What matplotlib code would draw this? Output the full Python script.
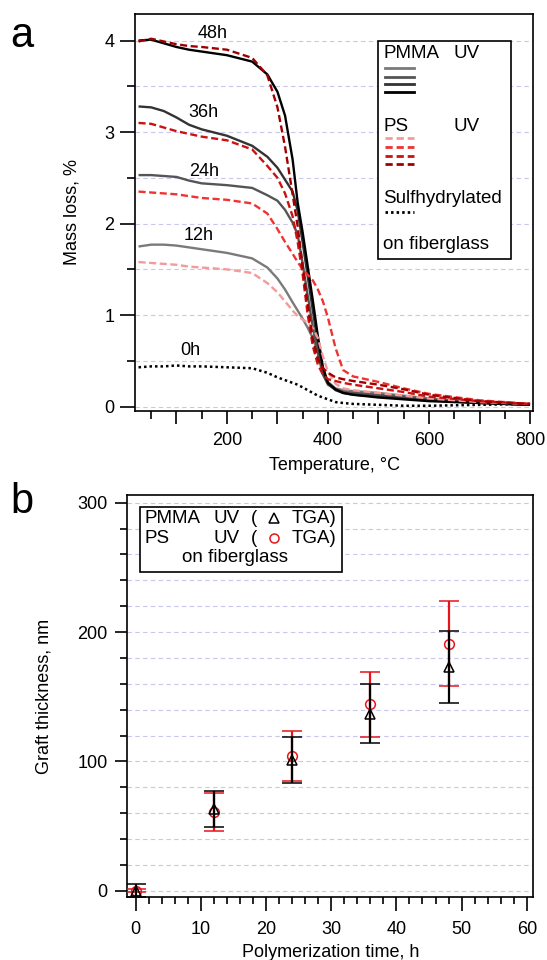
import matplotlib
matplotlib.use("Agg")
import matplotlib.pyplot as plt
from matplotlib.patches import Rectangle
from matplotlib.ticker import MultipleLocator, FuncFormatter

plt.rcParams['font.family'] = ['Liberation Sans', 'DejaVu Sans']

# ---- panel a: TGA curves (temperature in degC, mass loss in %) ----
temp = [25, 50, 75, 100, 125, 150, 200, 250, 280, 300, 315, 330, 340, 350,
        360, 370, 380, 390, 400, 415, 430, 450, 500, 550, 600, 700, 800]

pmma_12h = [1.75, 1.77, 1.77, 1.76, 1.74, 1.72, 1.68, 1.62, 1.52, 1.40, 1.28, 1.14, 1.05, 0.96,
            0.86, 0.75, 0.59, 0.40, 0.27, 0.20, 0.18, 0.17, 0.15, 0.12, 0.09, 0.05, 0.02]
pmma_24h = [2.53, 2.53, 2.52, 2.51, 2.47, 2.44, 2.42, 2.39, 2.31, 2.25, 2.15, 2.01, 1.88, 1.56,
            1.21, 0.87, 0.58, 0.35, 0.24, 0.19, 0.16, 0.15, 0.13, 0.11, 0.08, 0.05, 0.02]
pmma_36h = [3.28, 3.27, 3.23, 3.16, 3.08, 3.03, 2.96, 2.85, 2.73, 2.61, 2.48, 2.35, 2.14, 1.79,
            1.42, 1.05, 0.69, 0.39, 0.25, 0.18, 0.15, 0.13, 0.11, 0.09, 0.07, 0.04, 0.02]
pmma_48h = [4.00, 4.01, 3.97, 3.93, 3.90, 3.88, 3.84, 3.77, 3.63, 3.44, 3.18, 2.70, 2.23, 1.90,
            1.53, 1.16, 0.77, 0.43, 0.26, 0.19, 0.15, 0.13, 0.10, 0.08, 0.06, 0.04, 0.02]

ps_12h = [1.58, 1.57, 1.56, 1.55, 1.53, 1.52, 1.50, 1.46, 1.35, 1.25, 1.15, 1.05, 0.99, 0.95,
          0.92, 0.86, 0.75, 0.55, 0.38, 0.25, 0.20, 0.18, 0.15, 0.12, 0.09, 0.05, 0.03]
ps_24h = [2.35, 2.34, 2.33, 2.32, 2.30, 2.28, 2.26, 2.22, 2.11, 1.94, 1.80, 1.67, 1.58, 1.50,
          1.44, 1.38, 1.28, 1.15, 0.97, 0.64, 0.40, 0.33, 0.27, 0.20, 0.14, 0.07, 0.03]
ps_36h = [3.10, 3.09, 3.05, 3.01, 2.98, 2.95, 2.91, 2.81, 2.63, 2.50, 2.33, 2.08, 1.80, 1.44,
          1.00, 0.66, 0.46, 0.35, 0.30, 0.28, 0.26, 0.24, 0.20, 0.16, 0.11, 0.06, 0.03]
ps_48h = [3.99, 4.02, 3.99, 3.96, 3.94, 3.93, 3.90, 3.81, 3.62, 3.27, 2.84, 2.32, 1.97, 1.53,
          1.11, 0.74, 0.52, 0.42, 0.37, 0.32, 0.30, 0.28, 0.24, 0.19, 0.13, 0.06, 0.03]

sh_0h = [0.43, 0.44, 0.44, 0.45, 0.44, 0.44, 0.43, 0.42, 0.37, 0.32, 0.29, 0.26, 0.24, 0.21,
         0.18, 0.15, 0.12, 0.10, 0.08, 0.05, 0.04, 0.03, 0.02, 0.01, 0.01, 0.02, 0.03]

pmma_colors = ['#7a7a7a', '#555555', '#333333', '#000000']
ps_colors = ['#f49a9a', '#ee3333', '#cc1111', '#a00000']

curve_labels = ['48h', '36h', '24h', '12h', '0h']
label_temp = [172, 153, 154, 144, 127]
label_mass = [4.08, 3.21, 2.57, 1.87, 0.61]

# ---- panel b: graft thickness vs polymerization time ----
time_h = [0, 12, 24, 36, 48]
pmma_thick = [0, 63, 101, 137, 173]
pmma_err = [5, 14, 18, 23, 28]
ps_thick = [0, 61, 104, 144, 191]
ps_err = [1, 14.5, 19.5, 25, 33]

grid_color = '#c8c8ee'
ps_red = '#e8141b'

fig = plt.figure(figsize=(5.47, 9.6), dpi=100)
ax_a = fig.add_axes([0.2468, 0.5722, 0.7282, 0.4132])
ax_b = fig.add_axes([0.2327, 0.0653, 0.7422, 0.4191])

# ---------- panel a ----------
ax = ax_a
ax.plot(temp, sh_0h, color='black', lw=1.8, dashes=(1, 1.2))
for vals, c in zip([pmma_12h, pmma_24h, pmma_36h, pmma_48h], pmma_colors):
    ax.plot(temp, vals, color=c, lw=1.7, solid_capstyle='butt')
for vals, c in zip([ps_12h, ps_24h, ps_36h, ps_48h], ps_colors):
    ax.plot(temp, vals, color=c, lw=1.7, dashes=(3.0, 1.5))

for lab, tx, my in zip(curve_labels, label_temp, label_mass):
    ax.text(tx, my, lab, fontsize=13, ha='center', va='center')

ax.set_xlim(18, 806.5)
ax.set_ylim(-0.044, 4.29)
ax.xaxis.set_major_locator(MultipleLocator(100))
ax.xaxis.set_minor_locator(MultipleLocator(50))
ax.xaxis.set_major_formatter(FuncFormatter(lambda v, p: f"{v:.0f}" if v % 200 == 0 else ""))
ax.yaxis.set_major_locator(MultipleLocator(1))
ax.yaxis.set_minor_locator(MultipleLocator(0.5))
ax.yaxis.grid(True, which='both', color=grid_color, ls=(0, (4, 3)), lw=0.8)
ax.set_axisbelow(True)
ax.tick_params(axis='both', which='major', direction='out', length=10, width=1.2, labelsize=13)
ax.tick_params(axis='both', which='minor', direction='out', length=5.5, width=1.2)
ax.tick_params(axis='x', which='major', length=9, pad=6)
ax.tick_params(axis='y', which='major', length=11, pad=4)
for s in ax.spines.values():
    s.set_linewidth(1.2)
ax.set_xlabel('Temperature, \u00b0C', fontsize=13)
ax.set_ylabel('Mass loss, %', fontsize=13)
ax.xaxis.set_label_coords(0.5, -0.118)
ax.yaxis.set_label_coords(-0.138, 0.5)
fig.text(0.04, 0.962, 'a', fontsize=30, ha='center', va='center')

# legend box (panel a)
ax.add_patch(Rectangle((0.6113, 0.3824), 0.3315, 0.5495, transform=ax.transAxes,
                       facecolor='white', edgecolor='black', lw=1.2, zorder=5))
ax.text(0.6234, 0.9009, 'PMMA', transform=ax.transAxes, fontsize=13.5, va='center', zorder=6)
ax.text(0.7984, 0.9009, 'UV', transform=ax.transAxes, fontsize=13.5, va='center', zorder=6)
for y, c in zip([0.8631, 0.8419, 0.8228, 0.8026], pmma_colors):
    ax.plot([0.6276, 0.7012], [y, y], transform=ax.transAxes, color=c, lw=2, zorder=6)
ax.text(0.6234, 0.7159, 'PS', transform=ax.transAxes, fontsize=13.5, va='center', zorder=6)
ax.text(0.7984, 0.7159, 'UV', transform=ax.transAxes, fontsize=13.5, va='center', zorder=6)
for y, c in zip([0.6867, 0.6655, 0.6420, 0.6211], ps_colors):
    ax.plot([0.6276, 0.7012], [y, y], transform=ax.transAxes, color=c, lw=2, dashes=(2.6, 1.4), zorder=6)
ax.text(0.6234, 0.5354, 'Sulfhydrylated', transform=ax.transAxes, fontsize=13.5, va='center', zorder=6)
ax.plot([0.6276, 0.7012], [0.5016, 0.5016], transform=ax.transAxes, color='black', lw=2,
        dashes=(0.9, 1.1), zorder=6)
ax.text(0.6234, 0.4195, 'on fiberglass', transform=ax.transAxes, fontsize=13.5, va='center', zorder=6)

# ---------- panel b ----------
ax = ax_b
ax.errorbar(time_h, ps_thick, yerr=ps_err, fmt='o', color=ps_red, mfc='none', mec=ps_red,
            ms=7, mew=1.1, elinewidth=1.6, capsize=7, capthick=1.6, zorder=3)
ax.errorbar(time_h, pmma_thick, yerr=pmma_err, fmt='^', color='black', mfc='none', mec='black',
            ms=7.5, mew=1.1, elinewidth=1.6, capsize=7, capthick=1.6, zorder=4)

ax.set_xlim(-1.29, 61.0)
ax.set_ylim(-5.1, 306)
ax.xaxis.set_major_locator(MultipleLocator(10))
ax.xaxis.set_minor_locator(MultipleLocator(2))
ax.yaxis.set_major_locator(MultipleLocator(100))
ax.yaxis.set_minor_locator(MultipleLocator(20))
ax.yaxis.grid(True, which='both', color=grid_color, ls=(0, (4, 3)), lw=0.8)
ax.set_axisbelow(True)
ax.tick_params(axis='both', which='major', direction='out', length=10, width=1.2, labelsize=13)
ax.tick_params(axis='both', which='minor', direction='out', length=5, width=1.2)
ax.tick_params(axis='x', which='major', pad=7)
ax.tick_params(axis='y', which='major', length=9, pad=5)
for s in ax.spines.values():
    s.set_linewidth(1.2)
ax.set_xlabel('Polymerization time, h', fontsize=13)
ax.set_ylabel('Graft thickness, nm', fontsize=13)
ax.xaxis.set_label_coords(0.5, -0.115)
ax.yaxis.set_label_coords(-0.183, 0.5)
fig.text(0.04, 0.477, 'b', fontsize=30, ha='center', va='center')

# legend box (panel b)
ax.add_patch(Rectangle((0.0313, 0.8093), 0.497, 0.1616, transform=ax.transAxes,
                       facecolor='white', edgecolor='black', lw=1.2, zorder=5))
for y, name, mk, mc in [(0.942, 'PMMA', '^', 'black'), (0.8924, 'PS', 'o', ps_red)]:
    ax.text(0.0429, y, name, transform=ax.transAxes, fontsize=13.5, va='center', zorder=6)
    ax.text(0.2123, y, 'UV', transform=ax.transAxes, fontsize=13.5, va='center', zorder=6)
    ax.text(0.3046, y, '(', transform=ax.transAxes, fontsize=13.5, va='center', zorder=6)
    ax.plot([0.3625], [y], transform=ax.transAxes, marker=mk, ms=6.5, mfc='none', mec=mc,
            mew=1.1, ls='none', zorder=6)
    ax.text(0.4036, y, 'TGA)', transform=ax.transAxes, fontsize=13.5, va='center', zorder=6)
ax.text(0.1347, 0.8451, 'on fiberglass', transform=ax.transAxes, fontsize=13.5, va='center', zorder=6)

fig.savefig('out.png', dpi=100)
